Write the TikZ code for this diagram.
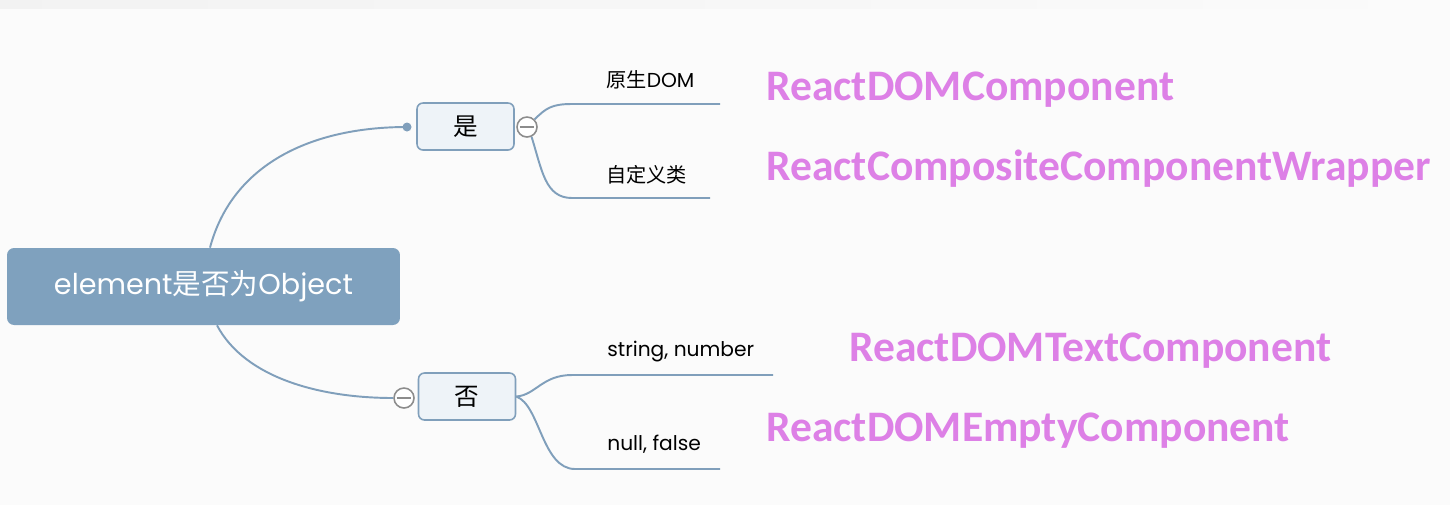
\documentclass[tikz,border=0pt]{standalone}
\usepackage{fontspec}
\setmainfont{Poppins}
\newfontfamily\cjk{Noto Sans CJK SC}
\newfontfamily\calib{Carlito}
\definecolor{bg}{HTML}{FBFBFB}
\definecolor{topic}{HTML}{7FA1BE}
\definecolor{branch}{HTML}{809FBB}
\definecolor{subfill}{HTML}{EEF3F8}
\definecolor{purp}{HTML}{DD80E6}
\definecolor{knob}{HTML}{8C8C8C}
\tikzset{
  rootbox/.style={draw=none, fill=topic, rounded corners=0.14cm,
    minimum width=7.86cm, minimum height=1.54cm, text=white,
    font=\fontsize{16.3}{18}\selectfont},
  subbox/.style={draw=branch, line width=0.9pt, fill=subfill, rounded corners=0.12cm,
    minimum width=1.94cm, minimum height=0.94cm, font=\cjk\fontsize{14}{16}\selectfont},
  link/.style={draw=branch, line width=1.1pt},
  knobnode/.style={circle, draw=knob, fill=white, line width=0.9pt,
    minimum size=0.4cm, inner sep=0pt},
  leaf/.style={anchor=base west, inner sep=0pt, font=\fontsize{11.5}{13}\selectfont},
  impl/.style={anchor=base west, inner sep=0pt, text=purp,
    font=\calib\bfseries\fontsize{24.8}{28}\selectfont},
}
\begin{document}
\begin{tikzpicture}[x=0.02cm, y=-0.02cm]
  % canvas
  \useasboundingbox (0,0) rectangle (1450,505);
  \fill[bg] (0,0) rectangle (1450,505);
  \shade[left color=black!5, right color=bg] (0,0) rectangle (1450,8);

  % root topic and the two answers
  \node[rootbox] (root) at (203.5,286.5) {element{\cjk 是否为}Object};
  \node[subbox] (yes) at (465.5,126.5) {是};
  \node[subbox] (no)  at (467,396.5) {否};

  % attachment dot and collapse knobs
  \node[circle, fill=branch, inner sep=0pt, minimum size=0.18cm] (yesdot) at (407,127) {};
  \node[knobnode] (yesknob) at (527,127) {};
  \node[knobnode] (noknob)  at (404,398) {};
  \draw[knob, line width=0.9pt] ([xshift=0.07cm]yesknob.west) -- ([xshift=-0.07cm]yesknob.east);
  \draw[knob, line width=0.9pt] ([xshift=0.07cm]noknob.west) -- ([xshift=-0.07cm]noknob.east);

  % root to answers
  \draw[link] ([xshift=0.13cm]root.north) .. controls (232,165) and (310,127) .. (yesdot.center);
  \draw[link] ([xshift=0.27cm]root.south) .. controls (245,378) and (320,398) .. (noknob.west);

  % leaf line ends
  \coordinate (e1) at (720,104);
  \coordinate (e2) at (710,198);
  \coordinate (e3) at (773,375);
  \coordinate (e4) at (720,469);

  % branches of "yes"
  \draw[link] (yesknob.north east) .. controls (546,108) and (552,104) .. (572,104) -- (e1);
  \draw[link] (yesknob.-65) .. controls (542,170) and (545,198) .. (572,198) -- (e2);
  % branches of "no"
  \draw[link] (no.east) .. controls (536,395) and (542,375) .. (572,375) -- (e3);
  \draw[link] (no.east) .. controls (540,405) and (542,469) .. (575,469) -- (e4);

  % leaf labels
  \node[leaf] (l1) at (606,87)  {{\cjk 原生}DOM};
  \node[leaf] (l2) at (606,182) {\cjk 自定义类};
  \node[leaf] (l3) at (607,356) {string, number};
  \node[leaf] (l4) at (607,450) {null, false};

  % implementing classes
  \node[impl] (c1) at (766,100) {ReactDOMComponent};
  \node[impl] (c2) at (766,180) {ReactCompositeComponentWrapper};
  \node[impl] (c3) at (849,361) {ReactDOMTextComponent};
  \node[impl] (c4) at (766,441) {ReactDOMEmptyComponent};
\end{tikzpicture}
\end{document}
